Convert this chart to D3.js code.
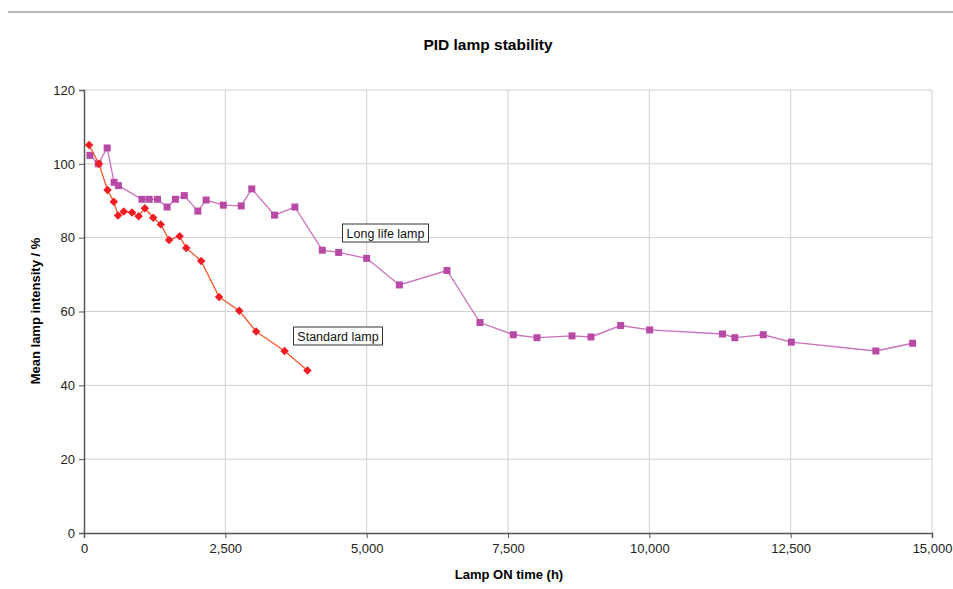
<!DOCTYPE html>
<html>
	<head>
		<meta charset="UTF-8" />
		<title>PID lamp stability</title>
		<script src="https://cdn.jsdelivr.net/npm/d3@7"></script>
		<style>
			body {
				margin: 0;
				background: #fff;
			}
			svg {
				font-family: "Liberation Sans", Arial, sans-serif;
			}
		</style>
	</head>
	<body>
		<svg width="953" height="589"></svg>

		<script>
			// Standard lamp: hours, intensity %
			const stdHours = [90, 263, 416, 527, 603, 703, 849, 966, 1077, 1224, 1358, 1505, 1692, 1809, 2073, 2389, 2746, 3045, 3548, 3952];
			const stdValues = [105.1, 100, 92.9, 89.7, 86.0, 87.1, 86.8, 85.8, 88.0, 85.4, 83.6, 79.4, 80.4, 77.2, 73.7, 63.9, 60.2, 54.6, 49.3, 44.0];

			// Long life lamp
			const longHours = [105, 252, 410, 533, 609, 1025, 1153, 1300, 1470, 1616, 1774, 2014, 2161, 2465, 2781, 2968, 3372, 3730, 4215, 4505, 5000, 5578, 6421, 7005, 7594, 8013, 8632, 8968, 9493, 10006, 11294, 11513, 12015, 12512, 14007, 14657];
			const longValues = [102.3, 100, 104.3, 95.0, 94.1, 90.4, 90.4, 90.4, 88.3, 90.4, 91.4, 87.2, 90.2, 88.8, 88.6, 93.2, 86.1, 88.3, 76.6, 76.0, 74.4, 67.2, 71.1, 57.0, 53.7, 52.9, 53.4, 53.1, 56.2, 55.0, 53.9, 52.9, 53.7, 51.7, 49.3, 51.4];

			const xTicks = [0, 2500, 5000, 7500, 10000, 12500, 15000];
			const yTicks = [0, 20, 40, 60, 80, 100, 120];

			const svg = d3.select("svg");
			const plotLeft = 84, plotRight = 932, plotTop = 90, plotBottom = 533;

			let x = d3.scaleLinear().domain([0, 15000]).range([plotLeft, plotRight]);
			let y = d3.scaleLinear().domain([0, 120]).range([plotBottom, plotTop]);

			// top rule
			svg.append("line")
				.attr("x1", 8).attr("x2", 953)
				.attr("y1", 12).attr("y2", 12)
				.attr("stroke", "#b8b8b8")
				.attr("stroke-width", 2);

			// Title
			svg.append("text")
				.text("PID lamp stability")
				.attr("x", 488)
				.attr("y", 50)
				.attr("text-anchor", "middle")
				.style("font-weight", "bold")
				.style("font-size", "15.5px");

			// gridlines
			svg.append("g")
				.selectAll("line")
				.data(yTicks.filter((d) => d > 0))
				.enter()
				.append("line")
				.attr("x1", plotLeft).attr("x2", plotRight)
				.attr("y1", (d) => y(d)).attr("y2", (d) => y(d))
				.attr("stroke", "#cfcfcf");
			svg.append("g")
				.selectAll("line")
				.data(xTicks.filter((d) => d > 0))
				.enter()
				.append("line")
				.attr("y1", plotTop).attr("y2", plotBottom)
				.attr("x1", (d) => x(d)).attr("x2", (d) => x(d))
				.attr("stroke", "#cfcfcf");

			// Axes
			let xAxis = d3.axisBottom(x).tickValues(xTicks).tickSize(5).tickPadding(6).tickFormat(d3.format(","));
			let yAxis = d3.axisLeft(y).tickValues(yTicks).tickSize(5).tickPadding(4);

			let gx = svg.append("g").attr("transform", `translate(0,${plotBottom})`).call(xAxis);
			let gy = svg.append("g").attr("transform", `translate(${plotLeft},0)`).call(yAxis);
			[gx, gy].forEach((g) => {
				g.select(".domain").attr("stroke", "#555").attr("stroke-width", 1.5);
				g.selectAll(".tick line").attr("stroke", "#555");
				g.selectAll(".tick text")
					.attr("fill", "#222")
					.style("font-size", "13px")
					.style("font-family", "'Liberation Sans', Arial, sans-serif");
			});

			// Axis titles
			svg.append("text")
				.text("Lamp ON time (h)")
				.attr("x", 509)
				.attr("y", 579)
				.attr("text-anchor", "middle")
				.style("font-weight", "bold")
				.style("font-size", "13px");
			svg.append("text")
				.text("Mean lamp intensity / %")
				.attr("transform", "translate(40,311) rotate(-90)")
				.attr("text-anchor", "middle")
				.style("font-weight", "bold")
				.style("font-size", "13px");

			const stdData = stdHours.map((h, i) => ({ h: h, v: stdValues[i] }));
			const longData = longHours.map((h, i) => ({ h: h, v: longValues[i] }));

			let line = d3
				.line()
				.x((d) => x(d.h))
				.y((d) => y(d.v));

			// Long life lamp
			svg.append("path")
				.datum(longData)
				.attr("d", line)
				.attr("fill", "none")
				.attr("stroke", "#c972bd")
				.attr("stroke-width", 1.3);
			svg.append("g")
				.selectAll("rect")
				.data(longData)
				.enter()
				.append("rect")
				.attr("x", (d) => x(d.h) - 3.5)
				.attr("y", (d) => y(d.v) - 3.5)
				.attr("width", 7)
				.attr("height", 7)
				.attr("fill", "#b84aa6");

			// Standard lamp
			svg.append("path")
				.datum(stdData)
				.attr("d", line)
				.attr("fill", "none")
				.attr("stroke", "#f25a2c")
				.attr("stroke-width", 1.3);
			svg.append("g")
				.selectAll("path")
				.data(stdData)
				.enter()
				.append("path")
				.attr("d", d3.symbol().type(d3.symbolDiamond2).size(46))
				.attr("transform", (d) => `translate(${x(d.h)},${y(d.v)})`)
				.attr("fill", "#ee1c24");

			// series labels
			function label(txt, cx, cy, w) {
				let g = svg.append("g");
				g.append("rect")
					.attr("x", cx - w / 2)
					.attr("y", cy - 9)
					.attr("width", w)
					.attr("height", 18)
					.attr("fill", "#fff")
					.attr("stroke", "#333");
				g.append("text")
					.text(txt)
					.attr("x", cx)
					.attr("y", cy + 4.5)
					.attr("text-anchor", "middle")
					.attr("fill", "#111")
					.style("font-size", "12.5px");
			}
			label("Long life lamp", 385.5, 233, 86);
			label("Standard lamp", 338, 336, 89);
		</script>
	</body>
</html>
